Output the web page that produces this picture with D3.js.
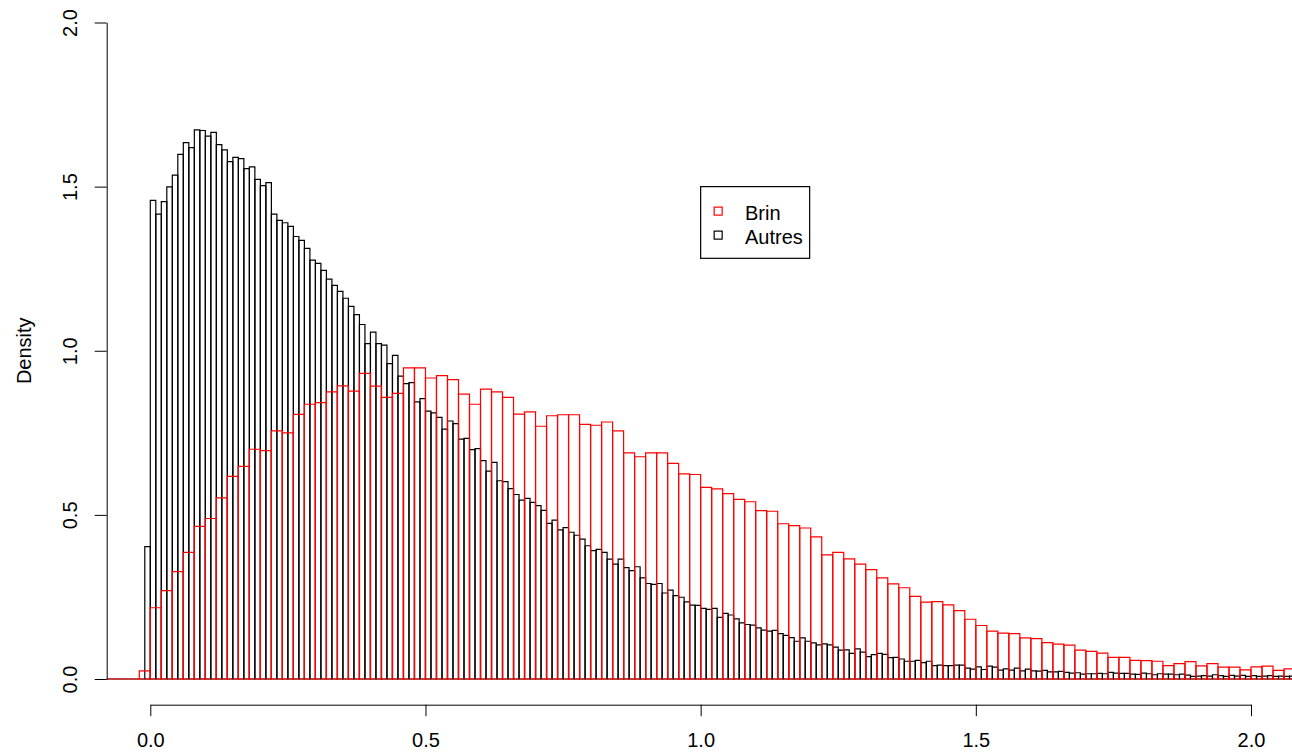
<!DOCTYPE html>
<html>
<head>
<meta charset="utf-8">
<script src="https://cdn.jsdelivr.net/npm/d3@7"></script>
<style>
body { margin: 0; background: white; }
svg { display: block; font-family: "Liberation Sans", Arial, sans-serif; }
</style>
</head>
<body>
<div class="hist-chart"></div>
<script>
// histogram data (density per bin)

// "Autres": bins of 0.01 starting at -0.08
var autresStart = -0.08;
var autresBinWidth = 0.01;
var autresDensity = [
    0, 0, 0, 0, 0, 0, 0, 0.403,
    1.458, 1.416, 1.454, 1.499, 1.535, 1.598, 1.634, 1.619, 1.673, 1.671,
    1.654, 1.665, 1.628, 1.612, 1.576, 1.589, 1.585, 1.555, 1.560, 1.522,
    1.503, 1.512, 1.416, 1.397, 1.390, 1.379, 1.348,
    1.336, 1.312, 1.276, 1.266, 1.245, 1.218, 1.199, 1.181, 1.160, 1.135, 1.110, 1.080,
    1.022, 1.057, 1.022, 1.017, 0.961, 0.986, 0.923, 0.900, 0.903, 0.844,
    0.854, 0.816, 0.811, 0.797, 0.761, 0.786, 0.778, 0.731, 0.733, 0.699,
    0.702, 0.665, 0.633, 0.660, 0.604, 0.601,
    0.580, 0.562, 0.545, 0.550, 0.538, 0.528, 0.514, 0.474, 0.484, 0.454,
    0.461, 0.447, 0.438, 0.426, 0.406, 0.391, 0.395, 0.386, 0.365, 0.350,
    0.365, 0.339, 0.330, 0.342, 0.308, 0.291, 0.288, 0.291, 0.262, 0.271,
    0.254, 0.249, 0.235, 0.225, 0.224, 0.215, 0.212, 0.215, 0.188,
    0.200, 0.195, 0.183, 0.171, 0.166, 0.164, 0.156, 0.149, 0.146, 0.148,
    0.138, 0.133, 0.126, 0.115, 0.125, 0.115, 0.110, 0.104, 0.107, 0.104,
    0.097, 0.088, 0.089, 0.078, 0.092, 0.082, 0.068, 0.074, 0.078, 0.075,
    0.065, 0.066, 0.061, 0.054, 0.054, 0.057,
    0.050, 0.054, 0.041, 0.042, 0.041, 0.041, 0.042, 0.042, 0.033, 0.030,
    0.037, 0.029, 0.039, 0.036, 0.027, 0.031, 0.027, 0.033, 0.025, 0.030,
    0.025, 0.024, 0.026, 0.022, 0.022, 0.023, 0.020, 0.018, 0.019, 0.015,
    0.016, 0.016,
    0.017, 0.016, 0.020, 0.018, 0.017, 0.017, 0.015, 0.014, 0.018, 0.016,
    0.013, 0.016, 0.015, 0.015, 0.013, 0.015, 0.012, 0.008, 0.009, 0.010,
    0.009, 0.013, 0.010, 0.008, 0.011, 0.009, 0.011, 0.008, 0.010, 0.008,
    0.009, 0.010, 0.008, 0.009, 0.008, 0.009
];

// "Brin": bins of 0.02 starting at -0.08
var brinStart = -0.08;
var brinBinWidth = 0.02;
var brinDensity = [
    0, 0, 0, 0.025,
    0.217, 0.269, 0.327, 0.386, 0.465, 0.489, 0.552, 0.617, 0.648, 0.700,
    0.696, 0.756, 0.750,
    0.806, 0.837, 0.842, 0.875, 0.893, 0.877, 0.931, 0.892, 0.858, 0.870,
    0.948, 0.948, 0.917, 0.924, 0.912, 0.868, 0.837, 0.883, 0.875, 0.858,
    0.807, 0.814, 0.770, 0.802, 0.805, 0.805, 0.776, 0.773, 0.783, 0.756,
    0.689, 0.677, 0.689, 0.689, 0.657, 0.625, 0.623, 0.584, 0.579,
    0.565, 0.547, 0.540, 0.513, 0.511, 0.473, 0.467, 0.460, 0.433, 0.378,
    0.386, 0.366, 0.350, 0.333, 0.308, 0.290, 0.278, 0.252,
    0.234, 0.236, 0.226, 0.208, 0.182, 0.163, 0.146, 0.140, 0.138, 0.125,
    0.123, 0.111, 0.106, 0.103, 0.088, 0.084, 0.079,
    0.066, 0.066, 0.057, 0.056, 0.054, 0.041, 0.047, 0.053, 0.040, 0.047,
    0.036, 0.036, 0.028, 0.037, 0.039, 0.026, 0.031
];

var xTicks = [0, 0.5, 1, 1.5, 2];
var yTicks = [0, 0.5, 1, 1.5, 2];
var legendLabels = ["Brin", "Autres"];
var legendColors = ["red", "black"];

var width = 1292;
var height = 753;
var fontSize = 20;

var x = d3.scaleLinear().domain([0, 2]).range([150.3, 1251]);
var y = d3.scaleLinear().domain([0, 2]).range([679, 22.5]);

var svg = d3.select(".hist-chart").append("svg")
    .attr("width", width)
    .attr("height", height)
    .style("background-color", "white");

// plot region, bars are clipped to it like in R
svg.append("defs").append("clipPath")
    .attr("id", "plot-area")
    .append("rect")
    .attr("x", 106.7)
    .attr("y", -4)
    .attr("width", width)
    .attr("height", 709);

//draw one histogram as open rectangles (paths so empty bins still show a line)
function drawHist(values, start, binWidth, color) {
    var g = svg.append("g").attr("clip-path", "url(#plot-area)");
    g.selectAll("path")
    .data(values)
    .enter()
    .append("path")
    .attr("d", function(v, i) {
        var x0 = x(start + i * binWidth),
            x1 = x(start + (i + 1) * binWidth);
        return "M" + x0 + "," + y(0) + "V" + y(v) + "H" + x1 + "V" + y(0) + "Z";
    })
    .attr("fill", "none")
    .attr("stroke", color)
    .attr("stroke-width", 1.2);
}

drawHist(autresDensity, autresStart, autresBinWidth, "black");
drawHist(brinDensity, brinStart, brinBinWidth, "red");

//x axis
var xAxis = svg.append("g")
    .attr("transform", "translate(0,704.7)")
    .call(d3.axisBottom(x)
        .tickValues(xTicks)
        .tickFormat(d3.format(".1f"))
        .tickSize(11.5)
        .tickSizeOuter(0)
        .tickPadding(17))
    .attr("font-size", fontSize)
    .attr("font-family", null);
xAxis.selectAll("text").attr("fill", "black");

//y axis, labels parallel to the axis
var yAxis = svg.append("g")
    .attr("transform", "translate(106.7,0)")
    .call(d3.axisLeft(y)
        .tickValues(yTicks)
        .tickFormat(d3.format(".1f"))
        .tickSize(12)
        .tickSizeOuter(0))
    .attr("font-size", fontSize)
    .attr("font-family", null);
yAxis.selectAll(".tick text")
    .attr("x", null)
    .attr("dy", null)
    .attr("fill", "black")
    .attr("text-anchor", "middle")
    .attr("transform", "translate(-30,0) rotate(-90)");

svg.append("text")
    .attr("transform", "translate(31," + ((y(0) + y(2)) / 2) + ") rotate(-90)")
    .attr("text-anchor", "middle")
    .attr("font-size", fontSize)
    .style("fill", "black")
    .text("Density");

//legend
var legend = svg.append("g")
    .attr("transform", "translate(" + x(1) + "," + y(1.5) + ")");
legend.append("rect")
    .attr("width", 109)
    .attr("height", 71.7)
    .attr("fill", "white")
    .attr("stroke", "black")
    .attr("stroke-width", 1.2);
legendLabels.forEach(function(label, i) {
    legend.append("rect")
        .attr("x", 13.5)
        .attr("y", 20.5 + i * 24)
        .attr("width", 8)
        .attr("height", 8)
        .attr("fill", "none")
        .attr("stroke", legendColors[i])
        .attr("stroke-width", 1.2);
    legend.append("text")
        .attr("x", 44.3)
        .attr("y", 33.3 + i * 24)
        .attr("font-size", fontSize)
        .style("fill", "black")
        .text(label);
});
</script>
</body>
</html>
